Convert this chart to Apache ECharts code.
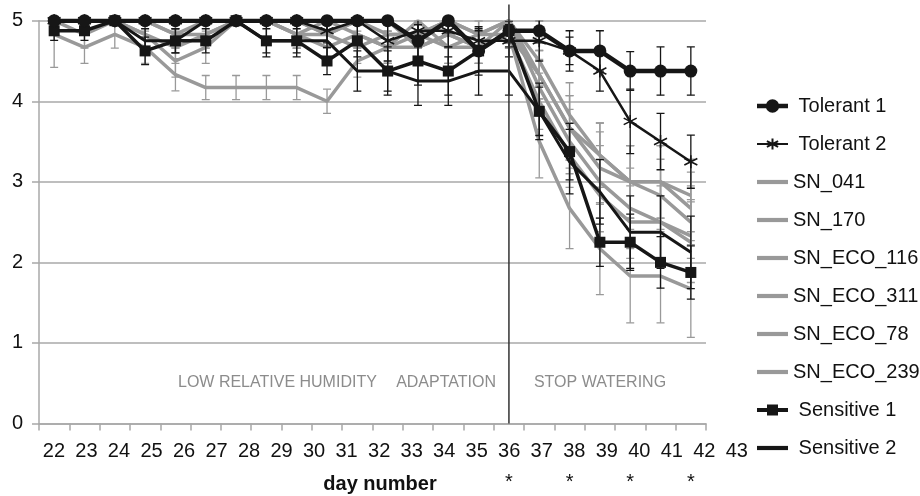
<!DOCTYPE html>
<html><head><meta charset="utf-8">
<script src="https://cdn.jsdelivr.net/npm/echarts@6.0.0/dist/echarts.min.js"></script>
<style>html,body{margin:0;padding:0;background:#fff}#c{width:920px;height:496px}</style>
</head><body><div id="c"></div>
<script>
// ---- data ----
const days = ['22','23','24','25','26','27','28','29','30','31','32','33','34','35','36','37','38','39','40','41','42','43'];
const yTicks = {min: 0, max: 5, interval: 1};

const tolerant1    = [5,5,5,5,5,5,5,5,5,5,5,5,4.75,5,4.625,4.875,4.875,4.625,4.625,4.375,4.375,4.375];
const tolerant1Err = [0,0,0,0,0,0,0,0,0,0,0,0,0.2,0.15,0.25,0.15,0.15,0.17,0.25,0.24,0.3,0.3];
const tolerant2    = [5,5,5,5,5,5,5,5,5,4.875,5,4.75,4.875,4.875,4.75,4.75,4.75,4.625,4.375,3.75,3.5,3.25];
const tolerant2Err = [0,0,0,0,0,0,0,0,0,0.15,0,0.25,0.2,0.2,0.15,0.2,0.25,0.25,0.25,0.4,0.35,0.33];

const sn041     = [4.83,4.67,4.83,4.67,4.33,4.17,4.17,4.17,4.17,4.0,4.5,4.67,4.67,4.83,4.67,4.83,4.33,3.67,3.17,3.0,3.0,2.67];
const sn041Err  = [0.41,0.2,0.17,0.2,0.2,0.15,0.15,0.15,0.15,0.15,0.2,0.2,0.2,0.17,0.2,0.17,0.3,0.4,0.45,0.45,0.45,0.45];
const sn170     = [5,5,5,4.83,4.5,4.67,5,5,4.83,4.83,5,4.83,4.83,5,4.83,5,4.5,3.83,3.33,3.0,2.83,2.5];
const sn170Err  = [0,0,0,0.17,0.2,0.2,0,0,0.17,0.17,0,0.17,0.17,0,0.17,0,0.3,0.4,0.4,0.45,0.45,0.45];
const snEco116    = [5,4.83,5,5,4.83,4.83,5,5,4.83,4.67,4.83,4.67,5,4.67,4.83,4.83,4.0,3.33,2.83,2.5,2.5,2.33];
const snEco116Err = [0,0.17,0,0,0.17,0.17,0,0,0.17,0.2,0.17,0.2,0,0.2,0.17,0.17,0.35,0.4,0.45,0.45,0.45,0.45];
const snEco311    = [5,5,5,4.83,4.67,4.83,5,5,5,4.83,4.67,4.83,4.83,4.67,4.67,5,4.17,3.5,3.0,2.67,2.5,2.25];
const snEco311Err = [0,0,0,0.17,0.2,0.17,0,0,0,0.17,0.2,0.17,0.17,0.2,0.2,0,0.35,0.4,0.45,0.5,0.5,0.5];
const snEco78     = [5,5,5,5,5,5,5,5,5,4.83,5,5,4.67,4.83,4.67,4.83,3.5,2.67,2.17,1.83,1.83,1.67];
const snEco78Err  = [0,0,0,0,0,0,0,0,0,0.17,0,0,0.2,0.17,0.2,0.17,0.45,0.5,0.57,0.58,0.58,0.6];
const snEco239    = [5,5,5,5,4.83,5,5,5,4.83,5,4.83,4.67,4.83,5,4.83,5,4.33,3.67,3.33,3.0,3.0,2.83];
const snEco239Err = [0,0,0,0,0.17,0,0,0,0.17,0,0.17,0.2,0.17,0,0.17,0,0.3,0.4,0.4,0.45,0.45,0.45];

const sensitive1    = [4.875,4.875,5,4.625,4.75,4.75,5,4.75,4.75,4.5,4.75,4.375,4.5,4.375,4.625,4.875,3.875,3.375,2.25,2.25,2.0,1.875];
const sensitive1Err = [0.12,0.12,0,0.17,0.15,0.15,0,0.15,0.15,0.17,0.2,0.25,0.3,0.3,0.3,0.12,0.3,0.35,0.3,0.35,0.32,0.33];
const sensitive2    = [5,5,5,4.75,4.75,5,5,4.75,4.75,4.75,4.375,4.375,4.25,4.25,4.375,4.375,3.875,3.25,2.875,2.375,2.375,2.125];
const sensitive2Err = [0,0,0,0.15,0.15,0,0,0.2,0.2,0.2,0.25,0.3,0.3,0.3,0.3,0.3,0.35,0.4,0.4,0.45,0.45,0.45];

const stopDay = '37';                 // category where the vertical separator stands
const sigDays = ['37','39','41','43']; // categories marked with an asterisk
const phaseLabels = ['LOW RELATIVE HUMIDITY', 'ADAPTATION', 'STOP WATERING'];
const xTitle = 'day number';

// ---- styles ----
const FONT = 'Liberation Sans, Arial, Helvetica, sans-serif';
const BLACK = '#161616', GRAY = '#999999', AXIS = '#a8a8a8';
const STAR = 'path://M50,0L50,100M6.7,25L93.3,75M6.7,75L93.3,25';
const BAR_ICON = 'path://M0,5H31V9.2H0Z';
const CIRCLE_ICON = 'path://M0,5H31V9.5H0Z M8.8,7.25A6.7,6.7 0 1 1 22.2,7.25A6.7,6.7 0 1 1 8.8,7.25Z';
const SQUARE_ICON = 'path://M0,5H31V9H0Z M10,1.5H21V12.5H10Z';
const legendIcons = {'Tolerant 1': CIRCLE_ICON, 'Sensitive 1': SQUARE_ICON};

function lineS(name, data, color, width, symbol, size, z, extra) {
  return Object.assign({
    name, type: 'line', data, z,
    xAxisIndex: 0, yAxisIndex: 0,
    symbol: symbol || 'none', symbolSize: size || 0, showSymbol: !!symbol,
    lineStyle: {color, width},
    itemStyle: {color, borderColor: color, borderWidth: 0},
    emphasis: {disabled: true}, animation: false
  }, extra || {});
}
function errS(name, vals, errs, color, z) {
  return {
    name: name + ' err', type: 'custom', z, clip: true, silent: true, animation: false,
    xAxisIndex: 0, yAxisIndex: 0,
    data: vals.map((v, i) => [i, v, errs[i]]),
    encode: {x: 0, y: 1},
    renderItem(params, api) {
      const i = api.value(0), v = api.value(1), e = api.value(2);
      if (!e) return null;
      const hi = api.coord([i, v + e]), lo = api.coord([i, v - e]);
      const w = 4, st = {stroke: color, lineWidth: 1.3};
      return {type: 'group', children: [
        {type: 'line', shape: {x1: hi[0], y1: hi[1], x2: lo[0], y2: lo[1]}, style: st},
        {type: 'line', shape: {x1: hi[0] - w, y1: hi[1], x2: hi[0] + w, y2: hi[1]}, style: st},
        {type: 'line', shape: {x1: lo[0] - w, y1: lo[1], x2: lo[0] + w, y2: lo[1]}, style: st}
      ]};
    }
  };
}

const grays = [
  ['SN_041', sn041, sn041Err], ['SN_170', sn170, sn170Err], ['SN_ECO_116', snEco116, snEco116Err],
  ['SN_ECO_311', snEco311, snEco311Err], ['SN_ECO_78', snEco78, snEco78Err], ['SN_ECO_239', snEco239, snEco239Err]
];

const series = [];
grays.forEach(g => series.push(errS(g[0], g[1], g[2], GRAY, 1)));
series.push(errS('Tolerant 1', tolerant1, tolerant1Err, BLACK, 3));
series.push(errS('Tolerant 2', tolerant2, tolerant2Err, BLACK, 3));
series.push(errS('Sensitive 1', sensitive1, sensitive1Err, BLACK, 3));
series.push(errS('Sensitive 2', sensitive2, sensitive2Err, BLACK, 3));

series.push(lineS('Tolerant 1', tolerant1, BLACK, 4.5, 'circle', 13, 6));
series.push(lineS('Tolerant 2', tolerant2, BLACK, 2.5, STAR, 13, 5,
  {itemStyle: {color: BLACK, borderColor: BLACK, borderWidth: 1.6}}));
grays.forEach(g => series.push(lineS(g[0], g[1], GRAY, 3.5, null, 0, 2)));
series.push(lineS('Sensitive 1', sensitive1, BLACK, 3.5, 'rect', 11, 5));
series.push(lineS('Sensitive 2', sensitive2, BLACK, 3, null, 0, 4));

// vertical separator
series.push({
  type: 'custom', name: 'separator', silent: true, clip: false, z: 7, animation: false,
  xAxisIndex: 0, yAxisIndex: 0,
  data: [[days.indexOf(stopDay), 0, 5.2]],
  renderItem(params, api) {
    const a = api.coord([api.value(0), api.value(1)]);
    const b = api.coord([api.value(0), api.value(2)]);
    return {type: 'line', shape: {x1: a[0], y1: a[1], x2: b[0], y2: b[1]}, style: {stroke: '#333', lineWidth: 1.5}};
  }
});

const legendNames = ['Tolerant 1','Tolerant 2','SN_041','SN_170','SN_ECO_116','SN_ECO_311','SN_ECO_78','SN_ECO_239','Sensitive 1','Sensitive 2'];

const chart = echarts.init(document.getElementById('c'), null, {renderer: 'canvas'});
chart.setOption({
  animation: false,
  backgroundColor: '#fff',
  textStyle: {fontFamily: FONT},
  grid: [
    {left: 39, right: 214, top: 20.7, bottom: 72.5, containLabel: false},
    {left: 37.7, width: 715.4, top: 20.7, bottom: 72.5, containLabel: false}
  ],
  xAxis: [
    {type: 'category', gridIndex: 0, data: days, boundaryGap: true,
     axisLine: {lineStyle: {color: AXIS, width: 1.5}},
     axisTick: {show: true, interval: 0, length: 7, lineStyle: {color: AXIS, width: 1.5}},
     axisLabel: {show: false}, splitLine: {show: false}},
    {type: 'category', gridIndex: 1, data: days, boundaryGap: true,
     axisLine: {show: false}, axisTick: {show: false}, splitLine: {show: false},
     axisLabel: {show: true, interval: 0, margin: 18, fontSize: 20, color: '#111', fontFamily: FONT}}
  ],
  yAxis: [
    {type: 'value', gridIndex: 0, min: yTicks.min, max: yTicks.max, interval: yTicks.interval,
     axisLine: {show: true, lineStyle: {color: AXIS, width: 1.5}},
     axisTick: {show: true, length: 7, lineStyle: {color: AXIS, width: 1.5}},
     splitLine: {show: true, lineStyle: {color: AXIS, width: 1.5}},
     axisLabel: {margin: 16, fontSize: 20, color: '#111', fontFamily: FONT}},
    {type: 'value', gridIndex: 1, min: 0, max: 1, show: false}
  ],
  legend: {
    orient: 'vertical', left: 751, top: 91, itemWidth: 31, itemHeight: 14, itemGap: 18,
    data: legendNames.map(n => n === 'Tolerant 2' ? {name: n} : {name: n, icon: legendIcons[n] || BAR_ICON}),
    selectedMode: false,
    formatter: n => n.indexOf('SN') === 0 ? n : ' ' + n,
    textStyle: {fontSize: 20, color: '#111', fontFamily: FONT}
  },
  series
});

// annotations placed from the axes
const graphics = [];
sigDays.forEach(d => {
  const px = chart.convertToPixel({xAxisIndex: 0}, d);
  graphics.push({type: 'text', x: px, y: 482, style: {text: '*', fill: '#111', fontSize: 20, fontFamily: FONT, align: 'center', verticalAlign: 'middle'}});
});
graphics.push({type: 'text', x: 178, y: 383, style: {text: phaseLabels[0], fill: '#8c8c8c', fontSize: 16, fontFamily: FONT, align: 'left', verticalAlign: 'middle'}});
graphics.push({type: 'text', x: 496, y: 383, style: {text: phaseLabels[1], fill: '#8c8c8c', fontSize: 16, fontFamily: FONT, align: 'right', verticalAlign: 'middle'}});
graphics.push({type: 'text', x: 600, y: 383, style: {text: phaseLabels[2], fill: '#8c8c8c', fontSize: 16, fontFamily: FONT, align: 'center', verticalAlign: 'middle'}});
graphics.push({type: 'text', x: 380, y: 484, style: {text: xTitle, fill: '#111', fontSize: 20, fontWeight: 'bold', fontFamily: FONT, align: 'center', verticalAlign: 'middle'}});
chart.setOption({graphic: graphics});
</script>
</body></html>
